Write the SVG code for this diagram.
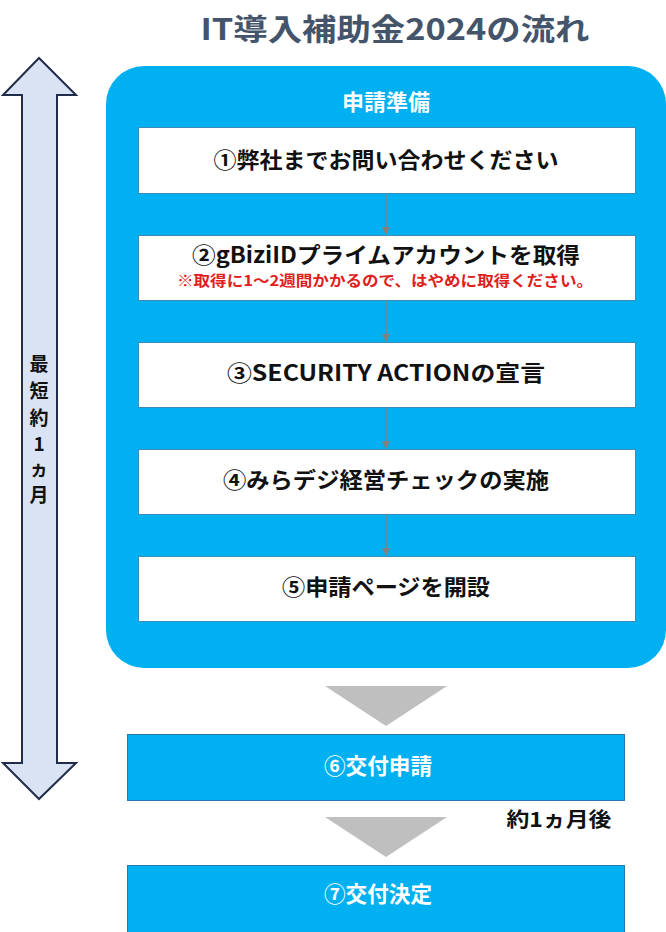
<svg xmlns="http://www.w3.org/2000/svg" width="666" height="932" viewBox="0 0 666 932">
  <style>
    text { font-family: "Noto Sans CJK JP", "Noto Sans", sans-serif; font-weight: bold; dominant-baseline: central; text-anchor: middle; }
    .step { fill: #ffffff; stroke: #3d8bb8; stroke-width: 1; }
    .blue { fill: #00b0f0; stroke: #2a78ad; stroke-width: 1; }
    .t { font-size: 22px; fill: #111111; }
    .w { font-size: 22px; fill: #ffffff; }
    .conn { stroke: #808080; stroke-width: 1.5; fill: none; }
  </style>
  <defs>
    <marker id="ah" markerWidth="8" markerHeight="8" refX="7" refY="4" orient="auto" markerUnits="userSpaceOnUse">
      <path d="M0,0 L8,4 L0,8 Z" fill="#808080"/>
    </marker>
  </defs>
  <rect width="666" height="932" fill="#ffffff"/>

  <g id="title">
    <text x="395" y="27" style="font-size:30px; fill:#44546a" textLength="389" lengthAdjust="spacingAndGlyphs">IT導入補助金2024の流れ</text>
  </g>

  <g id="duration-arrow">
    <path d="M39,58 L76,95 L57,95 L57,763 L76,763 L39,799 L3,763 L22,763 L22,95 L3,95 Z" fill="#dae3f3" stroke="#1f2d4a" stroke-width="2" stroke-linejoin="miter"/>
    <g style="font-size:19px; fill:#111111">
      <text x="39" y="362">最</text>
      <text x="39" y="389">短</text>
      <text x="39" y="416">約</text>
      <text x="39" y="442">1</text>
      <text x="39" y="467">ヵ</text>
      <text x="39" y="493">月</text>
    </g>
  </g>

  <g id="prep-panel">
    <rect x="106" y="66" width="560" height="602" rx="38" ry="38" fill="#00b0f0"/>
    <text x="386" y="100" style="font-size:22px; fill:#ffffff">申請準備</text>
  </g>

  <g id="connectors">
    <line class="conn" x1="386" y1="193" x2="386" y2="234" marker-end="url(#ah)"/>
    <line class="conn" x1="386" y1="301" x2="386" y2="341" marker-end="url(#ah)"/>
    <line class="conn" x1="386" y1="407" x2="386" y2="448" marker-end="url(#ah)"/>
    <line class="conn" x1="386" y1="514" x2="386" y2="555" marker-end="url(#ah)"/>
    <polygon points="325,686 447,686 386,726" fill="#bfbfbf"/>
    <polygon points="325,817 447,817 386,857" fill="#bfbfbf"/>
  </g>

  <g id="step1">
    <rect class="step" x="138.5" y="127.5" width="497" height="66"/>
    <text class="t" x="386" y="158" textLength="345" lengthAdjust="spacingAndGlyphs">①弊社までお問い合わせください</text>
  </g>

  <g id="step2">
    <rect class="step" x="138.5" y="235.5" width="497" height="65"/>
    <text class="t" x="386" y="253" textLength="388" lengthAdjust="spacingAndGlyphs">②gBiziIDプライムアカウントを取得</text>
    <text x="385" y="279" style="font-size:15px; fill:#e0201b" textLength="416" lengthAdjust="spacingAndGlyphs">※取得に1～2週間かかるので、はやめに取得ください。</text>
  </g>

  <g id="step3">
    <rect class="step" x="138.5" y="342.5" width="497" height="65"/>
    <text class="t" x="386" y="371" textLength="318" lengthAdjust="spacingAndGlyphs">③SECURITY ACTIONの宣言</text>
  </g>

  <g id="step4">
    <rect class="step" x="138.5" y="449.5" width="497" height="65"/>
    <text class="t" x="386" y="478" textLength="326" lengthAdjust="spacingAndGlyphs">④みらデジ経営チェックの実施</text>
  </g>

  <g id="step5">
    <rect class="step" x="138.5" y="556.5" width="497" height="65"/>
    <text class="t" x="386" y="585" textLength="208" lengthAdjust="spacingAndGlyphs">⑤申請ページを開設</text>
  </g>

  <g id="step6">
    <rect class="blue" x="127.5" y="734.5" width="497" height="66"/>
    <text class="w" x="378" y="764" textLength="108" lengthAdjust="spacingAndGlyphs">⑥交付申請</text>
  </g>

  <g id="wait-label">
    <text x="559" y="818" style="font-size:20px; fill:#111111" textLength="105" lengthAdjust="spacingAndGlyphs">約1ヵ月後</text>
  </g>

  <g id="step7">
    <rect class="blue" x="127.5" y="865.5" width="497" height="70"/>
    <text class="w" x="378" y="892" textLength="108" lengthAdjust="spacingAndGlyphs">⑦交付決定</text>
  </g>
</svg>
